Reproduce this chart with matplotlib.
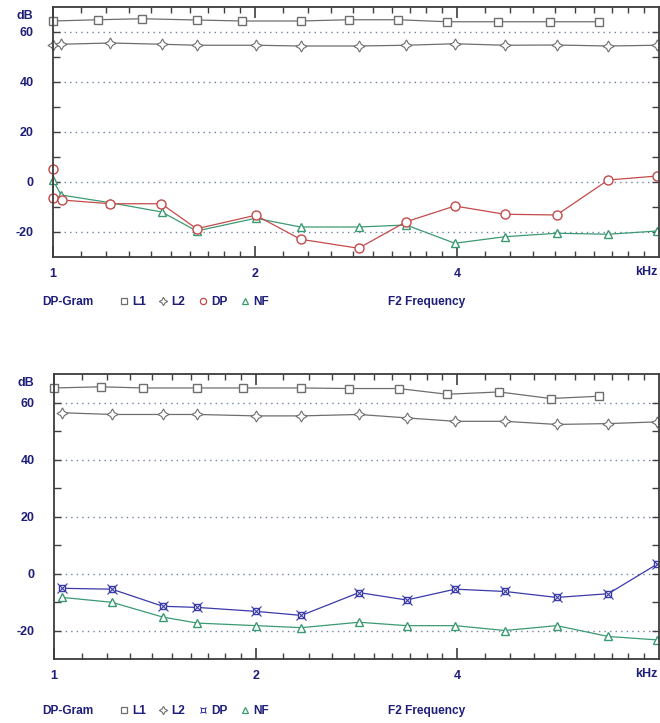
import matplotlib
matplotlib.use("Agg")
import matplotlib.pyplot as plt
from matplotlib.lines import Line2D
from matplotlib.ticker import FixedLocator, NullFormatter

plt.rcParams['font.family'] = ['Liberation Sans', 'DejaVu Sans']
plt.rcParams['axes.unicode_minus'] = False

# ---------------- data (kHz, dB) ----------------
top_l1_f = [1.0, 1.167, 1.358, 1.637, 1.915, 2.338, 2.757, 3.27, 3.866, 4.61, 5.51, 6.52]
top_l1 = [64.4, 64.9, 65.3, 64.8, 64.4, 64.4, 64.9, 64.9, 64.1, 64.1, 64.1, 64.1]
top_f2 = [1.0, 1.028, 1.218, 1.453, 1.637, 2.005, 2.338, 2.853, 3.36, 3.97, 4.71, 5.63, 6.72, 7.95]
top_l2 = [54.7, 55.1, 55.6, 55.1, 54.7, 54.7, 54.4, 54.4, 54.7, 55.3, 54.7, 54.8, 54.4, 54.7]
top_dp_f = [1.0, 1.0, 1.03, 1.218, 1.45, 1.637, 2.005, 2.338, 2.853, 3.36, 3.97, 4.71, 5.63, 6.72, 7.95]
top_dp = [5.1, -6.3, -7.2, -8.7, -8.7, -18.7, -13.3, -22.9, -26.5, -15.9, -9.6, -12.9, -13.2, 0.8, 2.4]
top_nf = [0.8, -5.2, -8.3, -12.0, -19.6, -14.5, -18.0, -18.0, -17.2, -24.5, -21.9, -20.5, -20.9, -19.6]

bot_l1_f = [1.0, 1.174, 1.36, 1.637, 1.917, 2.34, 2.76, 3.27, 3.86, 4.62, 5.51, 6.52]
bot_l1 = [65.1, 65.5, 65.1, 65.1, 65.1, 65.1, 64.9, 64.9, 62.9, 63.7, 61.4, 62.2]
bot_f2 = [1.029, 1.22, 1.454, 1.637, 2.005, 2.34, 2.853, 3.36, 3.97, 4.71, 5.63, 6.72, 7.95]
bot_l2 = [56.4, 55.8, 55.8, 55.8, 55.3, 55.3, 55.8, 54.6, 53.4, 53.4, 52.3, 52.6, 53.2]
bot_dp = [-5.2, -5.5, -11.5, -11.9, -13.3, -14.7, -6.7, -9.3, -5.5, -6.3, -8.4, -7.1, 3.3]
bot_nf = [-8.4, -10.1, -15.3, -17.4, -18.3, -19.0, -17.1, -18.3, -18.3, -20.0, -18.3, -22.1, -23.3]

x_major = [1, 2, 4]
x_major_labels = ["1", "2", "4"]
y_major = [-20, 0, 20, 40, 60]
legend_labels = ["L1", "L2", "DP", "NF"]

NAVY = '#1e1e7a'
GREY = '#6e6e6e'
RED = '#c44a4a'
GREEN = '#3b9a72'
BLUE = '#3a3aa8'
GRID = '#7080a8'
FS = 9
LFS = 8.6

fig = plt.figure(figsize=(6.6, 7.23), dpi=100)
W, H = 660.0, 723.0


def panel(rect_px):
    l, t, r, b = rect_px
    ax = fig.add_axes([l / W, 1 - b / H, (r - l) / W, (b - t) / H])
    ax.set_xscale('log', base=2)
    ax.set_xlim(1, 8)
    ax.set_ylim(-30, 70)
    ax.xaxis.set_major_locator(FixedLocator(x_major))
    ax.set_xticklabels(x_major_labels)
    minors = [1 + 0.1 * i for i in range(1, 10)] + [2 + 0.2 * i for i in range(1, 10)] + [4 + 0.4 * i for i in range(1, 10)]
    ax.xaxis.set_minor_locator(FixedLocator(minors))
    ax.xaxis.set_minor_formatter(NullFormatter())
    ax.yaxis.set_major_locator(FixedLocator(y_major))
    ax.yaxis.set_minor_locator(FixedLocator([-10, 10, 30, 50]))
    ax.tick_params(axis='both', which='both', direction='in', top=True, right=True,
                   color='#404040', labelcolor=NAVY, labelsize=FS)
    ax.tick_params(axis='x', which='major', length=8, width=1.2, pad=8)
    ax.tick_params(axis='x', which='minor', length=4, width=1)
    ax.tick_params(axis='y', which='major', length=5, width=1, pad=14)
    ax.tick_params(axis='y', which='minor', length=5, width=1)
    for lab in ax.get_xticklabels() + ax.get_yticklabels():
        lab.set_fontweight('bold')
    for s in ax.spines.values():
        s.set_color('#3c3c3c')
        s.set_linewidth(1.3)
    ax.grid(True, axis='y', which='major', linestyle=(0, (1, 3)), color=GRID, linewidth=1)
    ax.annotate('dB', xy=(0, 1), xycoords='axes fraction', xytext=(-20, -9),
                textcoords='offset pixels', ha='right', va='center',
                color=NAVY, fontsize=FS, fontweight='bold')
    ax.annotate('kHz', xy=(1, 0), xycoords='axes fraction', xytext=(-2, -15),
                textcoords='offset pixels', ha='right', va='center',
                color=NAVY, fontsize=FS, fontweight='bold')
    return ax


def legend_row(y_px, dp_handle):
    fig.text(42 / W, 1 - y_px / H, 'DP-Gram', ha='left', va='center', color=NAVY,
             fontsize=LFS, fontweight='bold')
    fig.text(388 / W, 1 - y_px / H, 'F2 Frequency', ha='left', va='center', color=NAVY,
             fontsize=LFS, fontweight='bold')
    handles = [
        Line2D([], [], linestyle='none', marker='s', markersize=4, mfc='white', mec=GREY, mew=0.9),
        Line2D([], [], linestyle='none', marker=(4, 1, 0), markersize=6, mfc='white', mec=GREY, mew=0.8),
        dp_handle,
        Line2D([], [], linestyle='none', marker='^', markersize=4.5, mfc='white', mec=GREEN, mew=0.9),
    ]
    leg = fig.legend(handles, legend_labels, ncol=4, loc='center left',
                     bbox_to_anchor=(120 / W, 1 - y_px / H), frameon=False,
                     handlelength=0.65, handletextpad=0.35, columnspacing=1.15,
                     borderpad=0, borderaxespad=0, fontsize=LFS)
    for t in leg.get_texts():
        t.set_color(NAVY)
        t.set_fontweight('bold')


line_kw = dict(linewidth=0.9, clip_on=False)

# ---------------- top panel ----------------
ax1 = panel((53, 7, 659, 257))
ax1.plot(top_l1_f, top_l1, color=GREY, marker='s', markersize=5.5, mfc='white', mec=GREY, mew=1, **line_kw)
ax1.plot(top_f2, top_l2, color=GREY, marker=(4, 1, 0), markersize=8, mfc='white', mec=GREY, mew=0.8, **line_kw)
ax1.plot(top_f2, top_nf, color=GREEN, marker='^', markersize=6, mfc='white', mec=GREEN, mew=1, **line_kw)
ax1.plot(top_dp_f, top_dp, color=RED, marker='o', markersize=6.5, mfc='white', mec=RED, mew=1, **line_kw)
legend_row(302, Line2D([], [], linestyle='none', marker='o', markersize=4.5, mfc='white', mec=RED, mew=0.9))

# ---------------- bottom panel ----------------
ax2 = panel((54, 374, 659, 659))
ax2.plot(bot_l1_f, bot_l1, color=GREY, marker='s', markersize=5.5, mfc='white', mec=GREY, mew=1, **line_kw)
ax2.plot(bot_f2, bot_l2, color=GREY, marker=(4, 1, 0), markersize=8, mfc='white', mec=GREY, mew=0.8, **line_kw)
ax2.plot(bot_f2, bot_nf, color=GREEN, marker='^', markersize=6, mfc='white', mec=GREEN, mew=1, **line_kw)
ax2.plot(bot_f2, bot_dp, color=BLUE, marker='s', markersize=4, mfc='white', mec=BLUE, mew=1, **line_kw)
ax2.plot(bot_f2, bot_dp, linestyle='none', marker='x', markersize=7, mec=BLUE, mew=0.8, clip_on=False)
dp_bot_handle = (Line2D([], [], linestyle='none', marker='x', markersize=5, mec=BLUE, mew=0.8),
                 Line2D([], [], linestyle='none', marker='s', markersize=2.8, mfc='white', mec=BLUE, mew=0.8))
legend_row(711, dp_bot_handle)

fig.savefig('out.png', dpi=100)
